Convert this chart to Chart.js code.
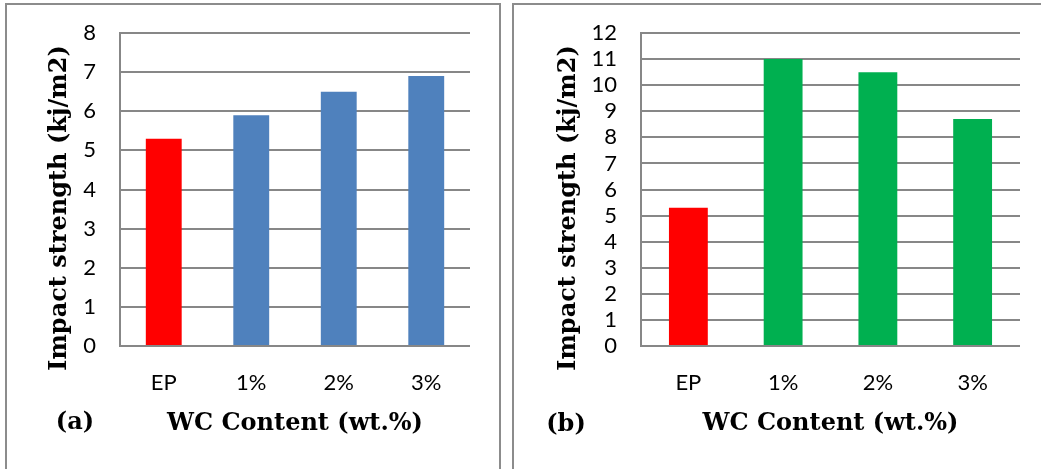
<!DOCTYPE html>
<html>
<head>
<meta charset="utf-8">
<script src="https://cdn.jsdelivr.net/npm/chart.js@4/dist/chart.umd.min.js"></script>
<style>
  html, body { margin: 0; padding: 0; background: #fff; overflow: hidden; }
  body { width: 1041px; height: 469px; position: relative; }
  .panel { position: absolute; border: 2px solid #8c8c8c; box-sizing: border-box; }
  #panelA { left: 5px; top: 3px; width: 496px; height: 520px; }
  #panelB { left: 512px; top: 3px; width: 600px; height: 520px; }
  canvas { position: absolute; top: 0; }
  #chartA { left: 0; }
  #chartB { left: 520px; }
</style>
</head>
<body>
<div class="panel" id="panelA"></div>
<div class="panel" id="panelB"></div>
<canvas id="chartA" width="505" height="469"></canvas>
<canvas id="chartB" width="521" height="469"></canvas>
<script>
const categories = ['EP', '1%', '2%', '3%'];
const valuesA = [5.3, 5.9, 6.5, 6.9];
const valuesB = [5.3, 11.0, 10.5, 8.7];
const colorsA = ['#ff0000', '#4f81bd', '#4f81bd', '#4f81bd'];
const colorsB = ['#ff0000', '#00b050', '#00b050', '#00b050'];
const yTitle = 'Impact strength (kj/m2)';
const xTitle = 'WC Content (wt.%)';

const tickFont = { family: 'Lato', size: 22 };
const titleFont = { family: 'DejaVu Serif', size: 24, weight: 'bold' };
const gridGray = '#878787';

// draws the rotated y title and the (a)/(b) tag
const sideText = {
    id: 'sideText',
    afterDraw(chart, args, opts) {
        const ctx = chart.ctx;
        ctx.save();
        ctx.fillStyle = '#000';
        ctx.font = 'bold 24px "DejaVu Serif"';
        ctx.textAlign = 'center';
        ctx.textBaseline = 'middle';
        ctx.fillText(opts.tag, opts.tagX, opts.tagY);
        ctx.translate(opts.titleX, opts.titleY);
        ctx.rotate(-Math.PI / 2);
        ctx.fillText(yTitle, 0, 0);
        ctx.restore();
    }
};

function makeChart(id, values, colors, yMax, yWidth, padRight, side) {
    return new Chart(document.getElementById(id), {
        type: 'bar',
        data: {
            labels: categories,
            datasets: [{
                data: values,
                backgroundColor: colors,
                borderWidth: 0,
                barPercentage: 0.41,
                categoryPercentage: 1.0
            }]
        },
        options: {
            responsive: false,
            animation: false,
            layout: { padding: { top: 33, right: padRight, left: 0, bottom: 0 } },
            plugins: {
                legend: { display: false },
                tooltip: { enabled: false },
                sideText: side
            },
            scales: {
                x: {
                    grid: { display: false, drawTicks: false },
                    border: { display: false },
                    ticks: { color: '#000', font: tickFont, padding: 24 },
                    title: {
                        display: true,
                        text: xTitle,
                        color: '#000',
                        font: titleFont,
                        padding: { top: 0, bottom: 31 }
                    },
                    afterFit(scale) { scale.height = 469 - 346; }
                },
                y: {
                    min: 0,
                    max: yMax,
                    ticks: { stepSize: 1, autoSkip: false, color: '#000', font: tickFont, padding: 24 },
                    grid: { color: gridGray, lineWidth: 2, drawTicks: false },
                    border: { display: true, color: gridGray, width: 2 },
                    afterFit(scale) {
                        scale.width = yWidth;
                        scale.paddingTop = 0;
                        scale.paddingBottom = 0;
                    }
                }
            }
        },
        plugins: [sideText]
    });
}

makeChart('chartA', valuesA, colorsA, 8, 120, 35,
    { tag: '(a)', tagX: 75, tagY: 423, titleX: 60, titleY: 208 });
makeChart('chartB', valuesB, colorsB, 12, 121, 21,
    { tag: '(b)', tagX: 46, tagY: 425, titleX: 49, titleY: 208 });
</script>
</body>
</html>
